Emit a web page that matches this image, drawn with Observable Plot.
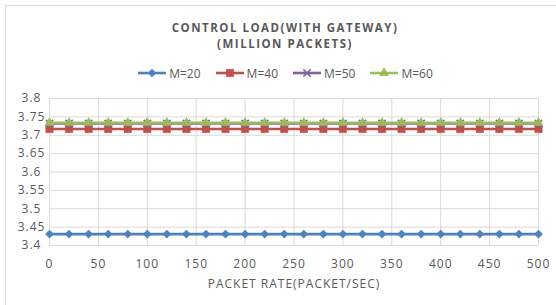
<!DOCTYPE html>
<html>
<head>
<meta charset="utf-8">
<script src="https://cdn.jsdelivr.net/npm/d3@7"></script>
<script src="https://cdn.jsdelivr.net/npm/@observablehq/plot@0.6"></script>
<style>
  html, body { margin: 0; padding: 0; background: #fff; }
  #wrap { position: relative; width: 556px; height: 305px; overflow: hidden; font-family: "Open Sans", sans-serif; color: #595959; }
  #border { position: absolute; left: 5px; top: 5px; width: 700px; height: 500px; border: 1.5px solid #dedede; }
  .title { position: absolute; left: 14px; width: 542px; text-align: center; font-weight: bold; font-size: 11.5px; letter-spacing: 1.5px; }
  #legend { position: absolute; left: 14px; width: 542px; top: 63px; height: 20px; display: flex; justify-content: center; align-items: center; gap: 14px; font-size: 12px; }
  .item { display: flex; align-items: center; }
  .item svg { display: block; }
  #chart { position: absolute; left: 0; top: 0; }
</style>
</head>
<body>
<div id="wrap">
  <div id="border"></div>
  <div class="title" style="top:20px">CONTROL LOAD(WITH GATEWAY)</div>
  <div class="title" style="top:36px">(MILLION PACKETS)</div>
  <div id="legend"></div>
  <div id="chart"></div>
</div>
<script>
const packetRate = d3.range(0, 501, 20);
const seriesNames = ["M=20", "M=40", "M=50", "M=60"];
const m20 = packetRate.map(() => 3.431);
const m40 = packetRate.map(() => 3.717);
const m50 = packetRate.map(() => 3.732);
const m60 = packetRate.map(() => 3.734);
const seriesValues = [m20, m40, m50, m60];
const colors = ["#4F81BD", "#C0504D", "#8064A2", "#9BBB59"];
const symbols = ["diamond2", "square", "times", "triangle"];
const radii = [3.7, 4.2, 3.4, 3.4];
const xTicks = d3.range(0, 501, 50);
const yTicks = [3.4, 3.45, 3.5, 3.55, 3.6, 3.65, 3.7, 3.75, 3.8];

const data = [];
seriesNames.forEach((name, i) => {
  packetRate.forEach((x, j) => data.push({series: name, x, y: seriesValues[i][j]}));
});

const marks = [
  Plot.gridX(xTicks, {stroke: "#d9d9d9", strokeOpacity: 1, strokeWidth: 1}),
  Plot.gridY(yTicks, {stroke: "#d9d9d9", strokeOpacity: 1, strokeWidth: 1}),
  Plot.axisX(xTicks, {tickSize: 0, tickPadding: 14, fontSize: 12, label: "PACKET RATE(PACKET/SEC)", labelAnchor: "center", labelArrow: "none", labelOffset: 42, tickFormat: d => String(d)}),
  Plot.axisY(yTicks, {tickSize: 0, tickPadding: 0, textAnchor: "middle", dx: -18, fontSize: 12, label: null, tickFormat: d => String(+d.toFixed(2))})
];
seriesNames.forEach((name, i) => {
  const d = data.filter(r => r.series === name);
  marks.push(Plot.line(d, {x: "x", y: "y", stroke: colors[i], strokeWidth: 2.6}));
  const isStroke = symbols[i] === "times";
  marks.push(Plot.dot(d, {x: "x", y: "y", symbol: () => symbols[i], r: radii[i],
    fill: isStroke ? "none" : colors[i], stroke: colors[i], strokeWidth: isStroke ? 1.5 : 0.5}));
});

const chart = Plot.plot({
  width: 556, height: 305,
  marginLeft: 49, marginRight: 18, marginTop: 98, marginBottom: 60,
  style: {fontFamily: "Open Sans, sans-serif", fontSize: "12px", color: "#595959", background: "transparent", letterSpacing: "1px"},
  x: {domain: [0, 500], label: null},
  y: {domain: [3.4, 3.8], label: null},
  symbol: {domain: symbols, range: symbols},
  marks
});
document.getElementById("chart").append(chart);

// legend
const legend = document.getElementById("legend");
seriesNames.forEach((name, i) => {
  const item = document.createElement("div");
  item.className = "item";
  const sym = d3.symbol(
    {diamond2: d3.symbolDiamond2, square: d3.symbolSquare, times: d3.symbolTimes, triangle: d3.symbolTriangle}[symbols[i]],
    Math.PI * radii[i] * radii[i]
  )();
  const stroke = symbols[i] === "times";
  item.innerHTML = `<svg width="30" height="12"><line x1="1" x2="29" y1="6" y2="6" stroke="${colors[i]}" stroke-width="2.6"/>` +
    `<path transform="translate(15,6)" d="${sym}" fill="${stroke ? "none" : colors[i]}" stroke="${colors[i]}" stroke-width="${stroke ? 1.5 : 0.5}"/></svg>` +
    `<span style="margin-left:2px">${name}</span>`;
  legend.append(item);
});
</script>
</body>
</html>
